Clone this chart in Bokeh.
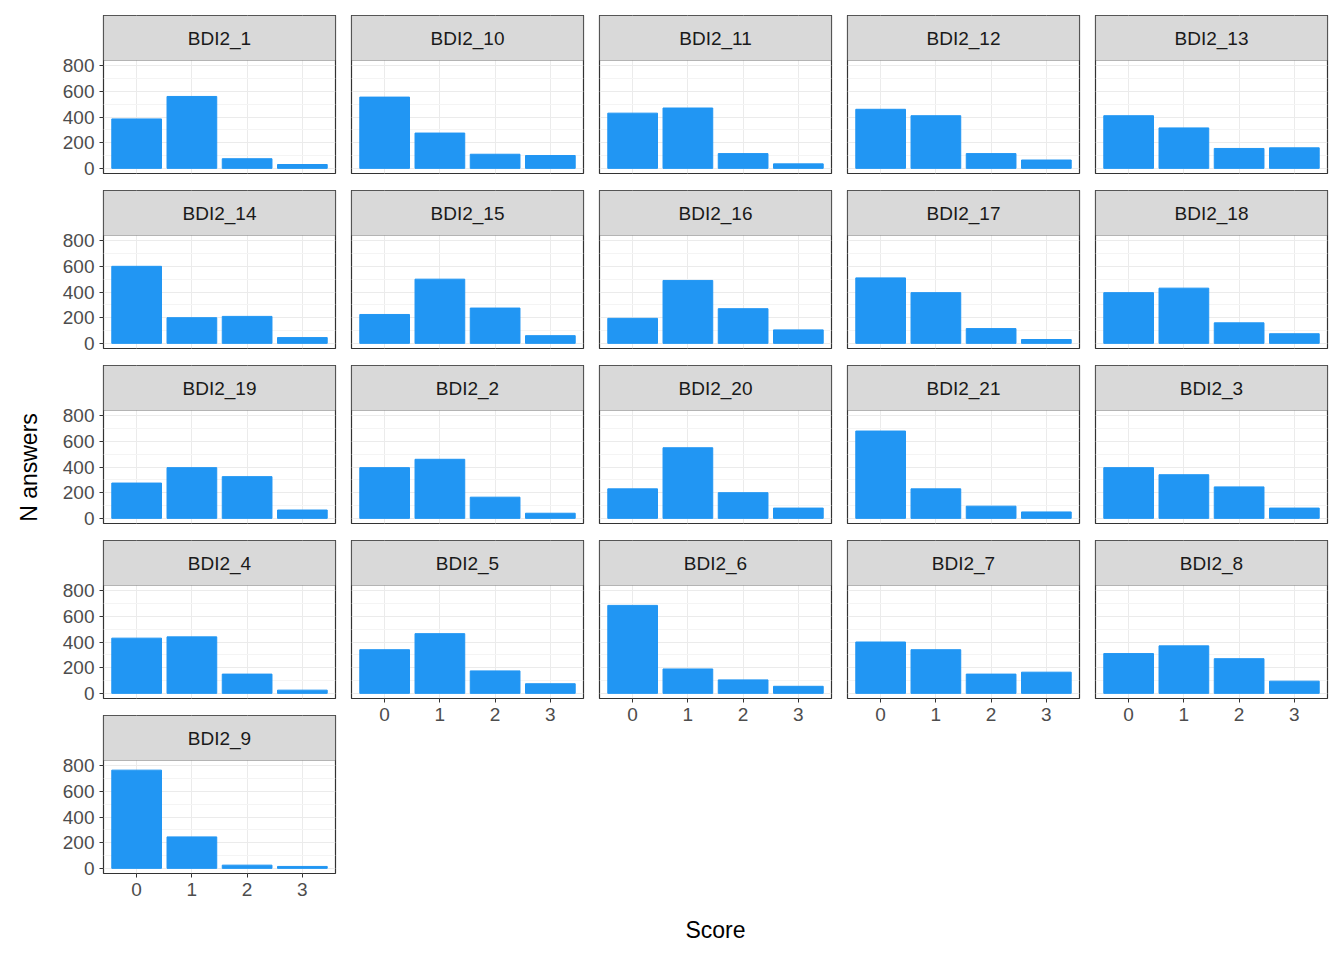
import math
from bokeh.plotting import figure
from bokeh.layouts import row, column, Spacer
from bokeh.models import BoxAnnotation, Label, FixedTicker, Range1d, ColumnDataSource
from bokeh.embed import file_html
from bokeh.resources import INLINE

scores = [0, 1, 2, 3]
items = ["BDI2_1","BDI2_10","BDI2_11","BDI2_12","BDI2_13",
         "BDI2_14","BDI2_15","BDI2_16","BDI2_17","BDI2_18",
         "BDI2_19","BDI2_2","BDI2_20","BDI2_21","BDI2_3",
         "BDI2_4","BDI2_5","BDI2_6","BDI2_7","BDI2_8","BDI2_9"]
counts = {
 "BDI2_1":[385,560,75,30], "BDI2_10":[555,275,110,100], "BDI2_11":[430,470,115,35],
 "BDI2_12":[460,410,115,65], "BDI2_13":[410,315,155,160], "BDI2_14":[600,200,210,45],
 "BDI2_15":[225,500,275,60], "BDI2_16":[195,490,270,105], "BDI2_17":[510,395,115,30],
 "BDI2_18":[395,430,160,75], "BDI2_19":[275,395,325,65], "BDI2_2":[395,460,165,40],
 "BDI2_20":[230,550,200,80], "BDI2_21":[680,230,95,50], "BDI2_3":[395,340,245,80],
 "BDI2_4":[430,440,150,25], "BDI2_5":[340,465,175,75], "BDI2_6":[685,190,105,55],
 "BDI2_7":[400,340,150,165], "BDI2_8":[310,370,270,95], "BDI2_9":[765,245,25,15],
}
yticks = [0, 200, 400, 600, 800]
yminor = [100, 300, 500, 700]

FW, PH, SH = 232, 113, 45
YLO, YHI = -40, 840
YTOP = YHI + SH / PH * (YHI - YLO)
GAPV = 17
BB = 10  # bottom border for panels without x axis

def panel(name, yaxis, xaxis):
    p = figure(frame_width=FW, frame_height=PH + SH, output_backend="svg", toolbar_location=None,
               x_range=Range1d(-0.6, 3.6), y_range=Range1d(YLO, YTOP),
               min_border_left=55 if yaxis else 2, min_border_right=2,
               min_border_top=0, min_border_bottom=0 if xaxis else BB)
    p.outline_line_color = "#333333"
    p.outline_line_width = 1.2
    src = ColumnDataSource(dict(x=scores, top=counts[name]))
    p.vbar(x="x", top="top", width=0.9, source=src, color="#2196F3")
    p.xaxis.ticker = FixedTicker(ticks=scores)
    p.yaxis.ticker = FixedTicker(ticks=yticks, minor_ticks=yminor)
    p.xgrid.grid_line_color = "#ebebeb"
    p.ygrid.grid_line_color = "#ebebeb"
    p.ygrid.minor_grid_line_color = "#f4f4f4"
    for ax in p.axis:
        ax.axis_line_color = None
        ax.major_tick_line_color = "#333333"
        ax.major_tick_out = 4
        ax.major_tick_in = 0
        ax.minor_tick_line_color = None
        ax.major_label_text_font = "Liberation Sans"
        ax.major_label_text_font_size = "19px"
        ax.major_label_text_color = "#4d4d4d"
    p.yaxis.visible = yaxis
    p.xaxis.visible = xaxis
    p.add_layout(BoxAnnotation(bottom=YHI, fill_color="#d9d9d9", fill_alpha=1,
                               line_color="#333333", line_width=1.2))
    p.add_layout(Label(x=1.5, y=(YHI + YTOP) / 2, text=name, text_align="center",
                       text_baseline="middle", text_font="Liberation Sans",
                       text_font_size="19px", text_color="#1a1a1a"))
    return p

cols = []
for c in range(5):
    figs = []
    names = [items[r * 5 + c] for r in range(5) if r * 5 + c < len(items)]
    for i, n in enumerate(names):
        figs.append(panel(n, c == 0, i == len(names) - 1))
    cols.append(column(*figs, spacing=GAPV - BB))

TOTAL_H = 5 * (PH + SH) + 4 * GAPV
yl = figure(width=48, height=TOTAL_H, output_backend="svg", toolbar_location=None,
            x_range=Range1d(0, 1), y_range=Range1d(0, 1), min_border=0)
yl.outline_line_color = None
yl.axis.visible = False
yl.grid.visible = False
yl.add_layout(Label(x=28, y=TOTAL_H - 452, x_units="screen", y_units="screen", text="N answers",
                    angle=math.pi / 2, text_align="center", text_baseline="middle",
                    text_font="Liberation Sans", text_font_size="23px", text_color="#000000"))

xl = figure(width=1330, height=70, output_backend="svg", toolbar_location=None,
            x_range=Range1d(0, 1), y_range=Range1d(0, 1), min_border=0)
xl.outline_line_color = None
xl.axis.visible = False
xl.grid.visible = False
xl.add_layout(Label(x=715, y=39, x_units="screen", y_units="screen", text="Score",
                    text_align="center", text_baseline="middle",
                    text_font="Liberation Sans", text_font_size="23px", text_color="#000000"))

main = row(yl, row(*cols, spacing=12), spacing=0)
layout = column(Spacer(height=15), main, xl, spacing=0)

open("out.html", "w").write(file_html(layout, INLINE))
